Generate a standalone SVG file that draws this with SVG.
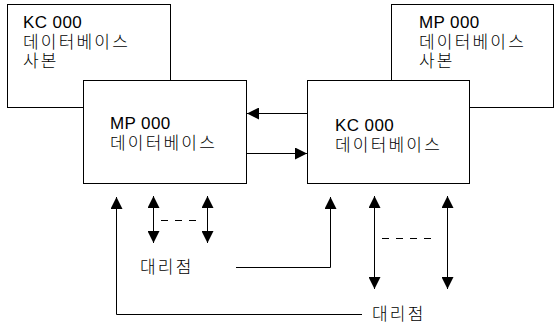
<svg xmlns="http://www.w3.org/2000/svg" width="555" height="327" viewBox="0 0 555 327">
<style>
.box{fill:#fff;stroke:#000;stroke-width:1}
.ln{fill:none;stroke:#000;stroke-width:1}
.dash{fill:none;stroke:#000;stroke-width:1;stroke-dasharray:7,7}
text{font-family:"Liberation Sans","Noto Sans CJK KR",sans-serif;font-size:17px;fill:#000;letter-spacing:0.4px}
.ko{letter-spacing:2.2px;font-weight:300}
</style>
<defs>
<marker id="ah" viewBox="0 0 12 12" refX="12" refY="6" markerWidth="12" markerHeight="12" markerUnits="userSpaceOnUse" orient="auto-start-reverse">
<path d="M0,0 L12,6 L0,12 Z" fill="#000"/>
</marker>
</defs>
<g id="kc-copy"><rect class="box" x="7.5" y="4.5" width="163" height="103"/>
<text x="23" y="28">KC 000</text><text class="ko" x="23" y="48">데이터베이스</text><text class="ko" x="23" y="67">사본</text></g>
<g id="mp-copy"><rect class="box" x="391.5" y="4.5" width="162" height="103"/>
<text x="419" y="28">MP 000</text><text class="ko" x="419" y="48">데이터베이스</text><text class="ko" x="419" y="67">사본</text></g>
<g id="mp-db"><rect class="box" x="83.5" y="80.5" width="163" height="103"/>
<text x="110" y="129">MP 000</text><text class="ko" x="110" y="149">데이터베이스</text></g>
<g id="kc-db"><rect class="box" x="307.5" y="80.5" width="162" height="103"/>
<text x="335" y="131">KC 000</text><text class="ko" x="335" y="151">데이터베이스</text></g>
<g id="agent1"><text class="ko" x="140" y="273">대리점</text></g>
<g id="agent2"><text class="ko" x="372" y="320">대리점</text></g>
<g id="connectors">
<line class="ln" x1="307" y1="113.5" x2="247" y2="113.5" marker-end="url(#ah)"/>
<line class="ln" x1="247" y1="153.5" x2="307" y2="153.5" marker-end="url(#ah)"/>
<polyline class="ln" points="362,314.5 116.5,314.5 116.5,197" marker-end="url(#ah)"/>
<polyline class="ln" points="236,267.5 330.5,267.5 330.5,197" marker-end="url(#ah)"/>
<line class="ln" x1="153.5" y1="196" x2="153.5" y2="243" marker-start="url(#ah)" marker-end="url(#ah)"/>
<line class="ln" x1="207.5" y1="196" x2="207.5" y2="243" marker-start="url(#ah)" marker-end="url(#ah)"/>
<line class="dash" x1="161" y1="220.5" x2="199" y2="220.5"/>
<line class="ln" x1="374.5" y1="196" x2="374.5" y2="289" marker-start="url(#ah)" marker-end="url(#ah)"/>
<line class="ln" x1="447.5" y1="196" x2="447.5" y2="289" marker-start="url(#ah)" marker-end="url(#ah)"/>
<line class="dash" x1="382" y1="238.5" x2="438" y2="238.5"/>
</g>
</svg>
